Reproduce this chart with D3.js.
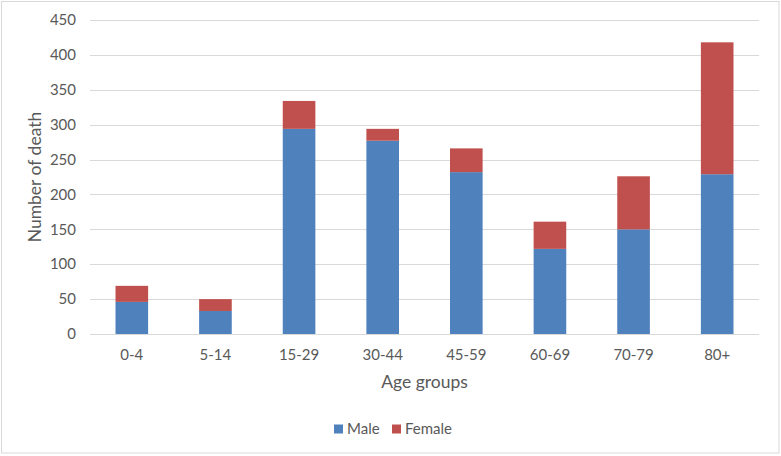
<!DOCTYPE html>
<html>
<head>
<meta charset="utf-8">
<script src="https://cdn.jsdelivr.net/npm/d3@7"></script>
<style>
  body { margin: 0; background: #fff; }
  text { font-family: Lato, "Open Sans", sans-serif; fill: #595959; }
</style>
</head>
<body>
<svg id="chart" width="781" height="456"></svg>
<script>
const ageGroups = ["0-4", "5-14", "15-29", "30-44", "45-59", "60-69", "70-79", "80+"];
const male = [46, 33, 294, 277, 232, 122, 150, 229];
const female = [23, 17, 40, 17, 34, 39, 76, 189];
const yTicks = [0, 50, 100, 150, 200, 250, 300, 350, 400, 450];
const seriesNames = ["Male", "Female"];
const colors = ["#4f81bd", "#c0504d"];

const svg = d3.select("#chart");
const margin = {left: 90, right: 22, top: 20, bottom: 122};
const width = 781 - margin.left - margin.right;
const height = 456 - margin.top - margin.bottom;

// chart frame
svg.append("rect")
  .attr("x", 1.5).attr("y", 1.5)
  .attr("width", 777.5).attr("height", 451.5)
  .attr("fill", "#fff")
  .attr("stroke", "#d9d9d9");

const g = svg.append("g").attr("transform", `translate(${margin.left},${margin.top})`);

const x = d3.scaleBand().domain(ageGroups).range([0, width]).paddingInner(0.61).paddingOuter(0.305);
const y = d3.scaleLinear().domain([0, 450]).range([height, 0]);

// gridlines
g.selectAll(".grid")
  .data(yTicks)
  .enter().append("line")
    .attr("x1", 0).attr("x2", width)
    .attr("y1", d => Math.round(y(d)) + 0.5)
    .attr("y2", d => Math.round(y(d)) + 0.5)
    .attr("stroke", "#d9d9d9");

// y tick labels
g.selectAll(".ytick")
  .data(yTicks)
  .enter().append("text")
    .attr("x", -14)
    .attr("y", d => y(d))
    .attr("dy", "0.35em")
    .attr("text-anchor", "end")
    .style("font-size", "15px")
    .text(d => d);

const rows = ageGroups.map((a, i) => ({group: a, Male: male[i], Female: female[i]}));
const stacked = d3.stack().keys(seriesNames)(rows);

g.selectAll(".series")
  .data(stacked)
  .enter().append("g")
    .attr("fill", (d, i) => colors[i])
  .selectAll("rect")
  .data(d => d)
  .enter().append("rect")
    .attr("x", d => x(d.data.group))
    .attr("y", d => y(d[1]))
    .attr("width", x.bandwidth())
    .attr("height", d => y(d[0]) - y(d[1]));

// x tick labels
g.selectAll(".xtick")
  .data(ageGroups)
  .enter().append("text")
    .attr("x", d => x(d) + x.bandwidth() / 2)
    .attr("y", height + 21)
    .attr("dy", "0.35em")
    .attr("text-anchor", "middle")
    .style("font-size", "15px")
    .text(d => d);

// axis titles
g.append("text")
  .attr("x", width / 2)
  .attr("y", height + 48)
  .attr("dy", "0.35em")
  .attr("text-anchor", "middle")
  .style("font-size", "17.5px")
  .text("Age groups");

svg.append("text")
  .attr("transform", `translate(35,${margin.top + height / 2}) rotate(-90)`)
  .attr("dy", "0.35em")
  .attr("text-anchor", "middle")
  .style("font-size", "17.5px")
  .text("Number of death");

// legend
const legend = svg.append("g").attr("transform", "translate(334,429)");
const items = legend.selectAll(".item")
  .data(seriesNames)
  .enter().append("g")
    .attr("transform", (d, i) => `translate(${i * 58},0)`);
items.append("rect")
  .attr("x", 0).attr("y", -4.5)
  .attr("width", 9).attr("height", 9)
  .attr("fill", (d, i) => colors[i]);
items.append("text")
  .attr("x", 13)
  .attr("dy", "0.35em")
  .style("font-size", "15px")
  .text(d => d);
</script>
</body>
</html>
